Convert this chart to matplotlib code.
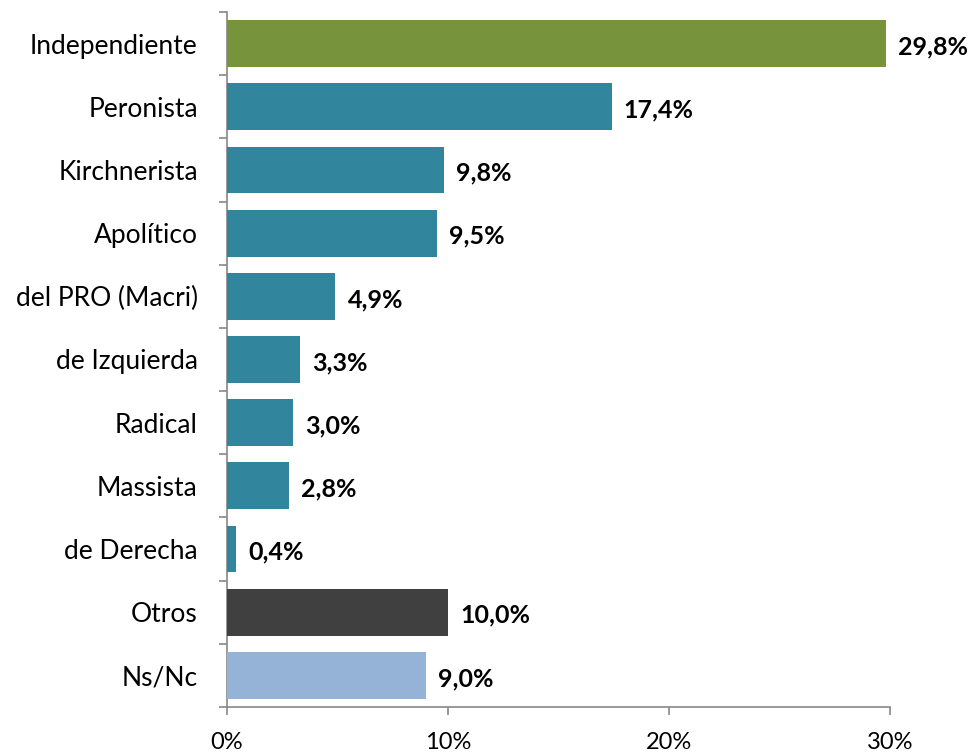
import matplotlib
matplotlib.use("Agg")
import matplotlib.pyplot as plt

categories = ["Independiente", "Peronista", "Kirchnerista", "Apolítico", "del PRO (Macri)",
              "de Izquierda", "Radical", "Massista", "de Derecha", "Otros", "Ns/Nc"]
values = [29.8, 17.4, 9.8, 9.5, 4.9, 3.3, 3.0, 2.8, 0.4, 10.0, 9.0]
labels = ["29,8%", "17,4%", "9,8%", "9,5%", "4,9%", "3,3%", "3,0%", "2,8%", "0,4%", "10,0%", "9,0%"]
colors = ["#77933C"] + ["#31859C"] * 8 + ["#404040", "#95B3D7"]
xticks = [0, 10, 20, 30]
xticklabels = ["0%", "10%", "20%", "30%"]

plt.rcParams['font.family'] = ['Lato', 'DejaVu Sans']

fig = plt.figure(figsize=(9.79, 7.54), dpi=100)
ax = fig.add_axes([227/979, 1-707/754, (890-227)/979, (707-12)/754])

n = len(categories)
ypos = list(range(n))
ax.barh(ypos, values, height=0.74, color=colors, zorder=3)
ax.set_ylim(n - 0.5, -0.5)
ax.set_xlim(0, 30)

for y, v, lab in zip(ypos, values, labels):
    ax.text(v + 0.55, y + 0.05, lab, va="center", ha="left", fontsize=18, fontweight="bold",
            color="#000000", zorder=4)

ax.set_yticks(ypos)
ax.set_yticklabels(categories, fontsize=19)
ax.set_yticks([i - 0.5 for i in range(n + 1)], minor=True)
ax.tick_params(axis="y", which="major", length=0, pad=21)
ax.tick_params(axis="y", which="minor", length=6, color="#888888", width=1.2)
ax.set_xticks(xticks)
ax.set_xticklabels(xticklabels, fontsize=17)
ax.tick_params(axis="x", length=6, color="#888888", width=1.2, pad=12)

for s in ["top", "right"]:
    ax.spines[s].set_visible(False)
for s in ["left", "bottom"]:
    ax.spines[s].set_color("#888888")
    ax.spines[s].set_linewidth(1.2)

fig.savefig("out.png", dpi=100, facecolor="white")
